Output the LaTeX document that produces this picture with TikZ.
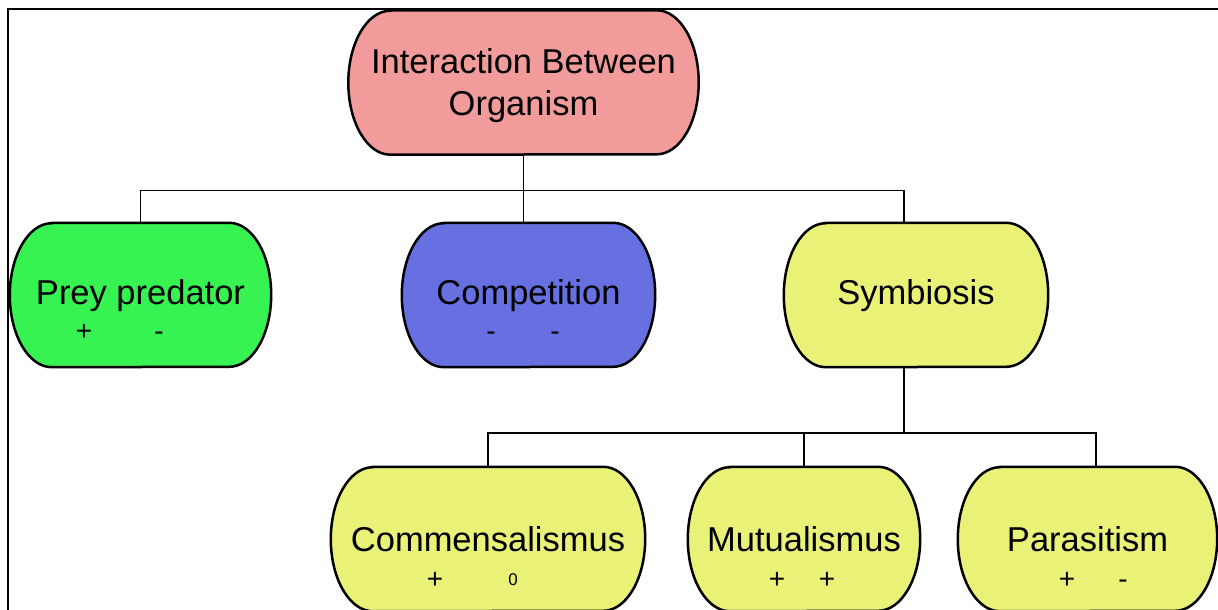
\documentclass[tikz,border=0pt]{standalone}
\usepackage{fontspec}
\setmainfont{Liberation Sans}
\definecolor{rootpink}{RGB}{241, 156, 155}
\definecolor{preygreen}{RGB}{54, 243, 82}
\definecolor{compblue}{RGB}{102, 112, 224}
\definecolor{symbyellow}{RGB}{233, 242, 119}
\usetikzlibrary{positioning, calc, backgrounds}

\begin{document}
\begin{tikzpicture}[x=1pt, y=-1pt,
    pill/.style={rectangle, minimum height=144pt, inner sep=0pt, align=center, font=\fontsize{34.5}{41.5}\selectfont},
    oneline/.style={text height=25pt, text depth=7pt},
    lowline/.style={text height=28pt, text depth=4pt},
    sign/.style={inner sep=0pt, font=\fontsize{28}{28}\selectfont, text height=19pt, text depth=0pt},
    link/.style={line width=1.5pt, black},
    rim/.style={line width=2.5pt, black}]
    \useasboundingbox (0,0) rectangle (1218,610);

    \node [pill, minimum width=350pt] (root) at (523.5,82.5) {\raisebox{-3pt}[\height][\depth]{\parbox{340pt}{\centering Interaction Between\\Organism}}};

    \node [pill, oneline, minimum width=261pt] (prey) at (140.5,295) {Prey predator};
    \node [pill, oneline, minimum width=253pt] (comp) at (528.5,295) {Competition};
    \node [pill, oneline, minimum width=264pt] (symb) at (916,295) {Symbiosis};

    \node [pill, lowline, minimum width=314pt] (comm) at (488,539) {Commensalismus};
    \node [pill, lowline, minimum width=232pt] (mutu) at (804,539) {Mutualismus};
    \node [pill, lowline, minimum width=259pt] (para) at (1087.5,539) {Parasitism};

    \node [sign] (prey-a) at ($(prey.center)+(-56.5,36)$) {+};
    \node [sign] (prey-b) at ($(prey.center)+(18.5,36)$) {-};
    \node [sign] (comp-a) at ($(comp.center)+(-37.5,36)$) {-};
    \node [sign] (comp-b) at ($(comp.center)+(26.5,36)$) {-};
    \node [sign] (comm-a) at ($(comm.center)+(-53,40)$) {+};
    \node [sign, font=\fontsize{17}{17}\selectfont, text height=12pt] (comm-b) at ($(comm.center)+(25,40)$) {0};
    \node [sign] (mutu-a) at ($(mutu.center)+(-27,40)$) {+};
    \node [sign] (mutu-b) at ($(mutu.center)+(23,40)$) {+};
    \node [sign] (para-a) at ($(para.center)+(-20.5,40)$) {+};
    \node [sign] (para-b) at ($(para.center)+(35.5,40)$) {-};

    \begin{scope}[on background layer]
        \foreach \n/\c in {root/rootpink, prey/preygreen, comp/compblue, symb/symbyellow, comm/symbyellow, mutu/symbyellow, para/symbyellow}
            \filldraw [rim, fill=\c] ($(\n.north west)+(42,0)$) -- ($(\n.north east)+(-42,0)$) arc[start angle=90, end angle=-90, x radius=42pt, y radius=72pt] -- ($(\n.south west)+(42,0)$) arc[start angle=270, end angle=90, x radius=42pt, y radius=72pt] -- cycle;
    \end{scope}

    \draw [line width=2pt] (8,610) -- (8,9) -- (1218,9);

    \draw [link] (root.south) -- ++(0,36) coordinate (hub1);
    \draw [link] (hub1) -| (prey.north);
    \draw [link] (hub1) -- (hub1 |- comp.north);
    \draw [link] (hub1) -| ([xshift=-12pt]symb.north);

    \draw [link] ([xshift=-12pt]symb.south) -- ++(0,66) coordinate (hub2);
    \draw [link] (hub2) -| (comm.north);
    \draw [link] (hub2) -| (mutu.north);
    \draw [link] (hub2) -| ([xshift=8.5pt]para.north);
\end{tikzpicture}
\end{document}
